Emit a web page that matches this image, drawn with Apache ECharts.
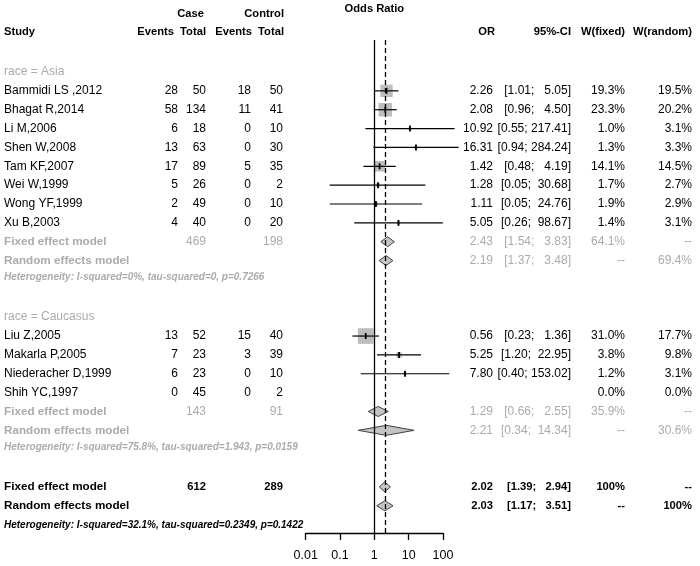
<!DOCTYPE html>
<html><head><meta charset="utf-8">
<script src="https://cdn.jsdelivr.net/npm/echarts@6/dist/echarts.min.js"></script>
<style>html,body{margin:0;padding:0;background:#fff}#c{width:700px;height:566px}</style>
</head><body><div id="c"></div>
<script>
// ---------- data ----------
const studies = ['Bammidi LS ,2012','Bhagat R,2014','Li M,2006','Shen W,2008','Tam KF,2007','Wei W,1999','Wong YF,1999','Xu B,2003','Liu Z,2005','Makarla P,2005','Niederacher D,1999','Shih YC,1997'];
const studyRow = [1,2,3,4,5,6,7,8,14,15,16,17];
const caseEvents = [28,58,6,13,17,5,2,4,13,7,6,0];
const caseTotal = [50,134,18,63,89,26,49,40,52,23,23,45];
const ctrlEvents = [18,11,0,0,5,0,0,0,15,3,0,0];
const ctrlTotal = [50,41,10,30,35,2,10,20,40,39,10,2];
const orValue = [2.26,2.08,10.92,16.31,1.42,1.28,1.11,5.05,0.56,5.25,7.80,null];
const ciLower = [1.01,0.96,0.55,0.94,0.48,0.05,0.05,0.26,0.23,1.20,0.40,null];
const ciUpper = [5.05,4.50,217.41,284.24,4.19,30.68,24.76,98.67,1.36,22.95,153.02,null];
const wFixed = [19.3,23.3,1.0,1.3,14.1,1.7,1.9,1.4,31.0,3.8,1.2,0.0];
const wRandom = [19.5,20.2,3.1,3.3,14.5,2.7,2.9,3.1,17.7,9.8,3.1,0.0];

const groupLabels = ['race = Asia','race = Caucasus'];
const groupRow = [0,13];

const modelNames = ['Fixed effect model','Random effects model','Fixed effect model','Random effects model','Fixed effect model','Random effects model'];
const modelOverall = [false,false,false,false,true,true];
const modelRow = [9,10,18,19,22,23];
const modelOR = [2.43,2.19,1.29,2.21,2.02,2.03];
const modelLower = [1.54,1.37,0.66,0.34,1.39,1.17];
const modelUpper = [3.83,3.48,2.55,14.34,2.94,3.51];
const modelCaseTotal = [469,null,143,null,612,null];
const modelCtrlTotal = [198,null,91,null,289,null];
const modelWFixed = ['64.1%','--','35.9%','--','100%','--'];
const modelWRandom = ['--','69.4%','--','30.6%','--','100%'];

const hetText = ['Heterogeneity: I-squared=0%, tau-squared=0, p=0.7266','Heterogeneity: I-squared=75.8%, tau-squared=1.943, p=0.0159','Heterogeneity: I-squared=32.1%, tau-squared=0.2349, p=0.1422'];
const hetRow = [10.9,19.9,24.05];
const hetOverall = [false,false,true];

const headerTop = ['Case','Control'];
const headerCols = ['Events','Total','Events','Total','OR','95%-CI','W(fixed)','W(random)'];
const plotTitle = 'Odds Ratio';
const xTicks = [0.01,0.1,1,10,100];
const nullLine = 1;
const pooledLine = 2.02;

// ---------- layout ----------
const FONT = '"Liberation Sans", Arial, sans-serif';
const fReg = '12px ' + FONT;
const fBold = 'bold 11.2px ' + FONT;
const fModel = 'bold 11.7px ' + FONT;
const fHet = 'italic bold 10px ' + FONT;
const GRAY = '#ababab';
const X = {study:4, ce:178, ct:206, ke:251, kt:283, or:493, ci:571, wf:625, wr:692};
const HX = [174,206,252,284,495,571,625,692];

const cells = [];
function add(row, x, text, align, font, color){ cells.push({row, x, text:String(text), align, font, color}); }
const ci = (lo,hi) => '[' + lo.toFixed(2) + '; ' + hi.toFixed(2).padStart(6,' ') + ']';

add(-3.34, 'center', plotTitle, 'center', fBold, '#000');
add(-3.07, 204, headerTop[0], 'right', fBold, '#000');
add(-3.07, 284, headerTop[1], 'right', fBold, '#000');
add(-2.12, X.study, 'Study', 'left', fBold, '#000');
headerCols.forEach((h,i)=>add(-2.12, HX[i], h, 'right', fBold, '#000'));

groupLabels.forEach((g,i)=>add(groupRow[i], X.study, g, 'left', fReg, GRAY));
studies.forEach((s,i)=>{
  const r = studyRow[i];
  add(r, X.study, s, 'left', fReg, '#000');
  add(r, X.ce, caseEvents[i], 'right', fReg, '#000');
  add(r, X.ct, caseTotal[i], 'right', fReg, '#000');
  add(r, X.ke, ctrlEvents[i], 'right', fReg, '#000');
  add(r, X.kt, ctrlTotal[i], 'right', fReg, '#000');
  if (orValue[i] != null) {
    add(r, X.or, orValue[i].toFixed(2), 'right', fReg, '#000');
    add(r, X.ci, ci(ciLower[i], ciUpper[i]), 'right', fReg, '#000');
  }
  add(r, X.wf, wFixed[i].toFixed(1) + '%', 'right', fReg, '#000');
  add(r, X.wr, wRandom[i].toFixed(1) + '%', 'right', fReg, '#000');
});
modelNames.forEach((m,i)=>{
  const r = modelRow[i];
  const ov = modelOverall[i];
  const col = ov ? '#000' : GRAY;
  const fn = ov ? fBold : fReg;
  add(r, X.study, m, 'left', fModel, col);
  if (modelCaseTotal[i] != null) add(r, X.ct, modelCaseTotal[i], 'right', fn, col);
  if (modelCtrlTotal[i] != null) add(r, X.kt, modelCtrlTotal[i], 'right', fn, col);
  add(r, X.or, modelOR[i].toFixed(2), 'right', fn, col);
  add(r, X.ci, ci(modelLower[i], modelUpper[i]), 'right', fn, col);
  add(r, X.wf, modelWFixed[i], 'right', fn, col);
  add(r, X.wr, modelWRandom[i], 'right', fn, col);
});
hetText.forEach((h,i)=>add(hetRow[i], X.study, h, 'left', fHet, hetOverall[i] ? '#000' : GRAY));

// ---------- chart ----------
const ROW0 = 72, ROWH = 18.86, TOP = 40, AXISY = 533;
const yMin = (TOP - ROW0) / ROWH, yMax = (AXISY - ROW0) / ROWH;

const studyData = [];
studies.forEach((s,i)=>{ if (orValue[i] != null) studyData.push([orValue[i], studyRow[i], ciLower[i], ciUpper[i], wFixed[i]]); });
const diamondData = modelOR.map((v,i)=>[v, modelRow[i], modelLower[i], modelUpper[i]]);

const chart = echarts.init(document.getElementById('c'));
chart.setOption({
  animation: false,
  backgroundColor: '#fff',
  grid: { left: 305.7, right: 700 - 443, top: TOP, bottom: 566 - AXISY, containLabel: false },
  xAxis: {
    type: 'log', logBase: 10, min: xTicks[0], max: xTicks[xTicks.length-1], position: 'bottom',
    axisLine: { show: true, onZero: false, lineStyle: { color: '#000', width: 1.3 } },
    axisTick: { show: true, length: 7, lineStyle: { color: '#000', width: 1.3 } },
    minorTick: { show: false },
    splitLine: { show: false },
    axisLabel: { color: '#000', fontSize: 12.5, fontFamily: FONT, margin: 16,
      formatter: v => { const t = xTicks.find(k => Math.abs(Math.log10(k) - Math.log10(v)) < 1e-6); return t != null ? String(t) : ''; } }
  },
  yAxis: { type: 'value', inverse: true, min: yMin, max: yMax, show: false },
  series: [
    {
      type: 'line', data: [], silent: true,
      markLine: {
        symbol: 'none', silent: true, label: { show: false },
        data: [
          { xAxis: nullLine, lineStyle: { color: '#000', width: 1.3, type: 'solid' } },
          { xAxis: pooledLine, lineStyle: { color: '#000', width: 1.3, type: [5,3] } }
        ]
      }
    },
    {
      type: 'custom', coordinateSystem: 'cartesian2d', clip: false, silent: true,
      data: studyData, encode: { x: 0, y: 1 },
      renderItem: (params, api) => {
        const p = api.coord([api.value(0), api.value(1)]);
        const lo = api.coord([api.value(2), api.value(1)]);
        const hi = api.coord([api.value(3), api.value(1)]);
        const s = 2.8 * Math.sqrt(api.value(4));
        return { type: 'group', children: [
          { type: 'rect', shape: { x: p[0]-s/2, y: p[1]-s/2, width: s, height: s }, style: { fill: '#bdbdbd' } },
          { type: 'line', shape: { x1: lo[0], y1: lo[1], x2: hi[0], y2: hi[1] }, style: { stroke: '#000', lineWidth: 1.2 } },
          { type: 'line', shape: { x1: p[0], y1: p[1]-3, x2: p[0], y2: p[1]+3 }, style: { stroke: '#000', lineWidth: 1.8 } }
        ]};
      }
    },
    {
      type: 'custom', coordinateSystem: 'cartesian2d', clip: false, silent: true,
      data: diamondData, encode: { x: 0, y: 1 },
      renderItem: (params, api) => {
        const p = api.coord([api.value(0), api.value(1)]);
        const lo = api.coord([api.value(2), api.value(1)]);
        const hi = api.coord([api.value(3), api.value(1)]);
        const h = 5;
        return { type: 'polygon', shape: { points: [[lo[0],p[1]],[p[0],p[1]-h],[hi[0],p[1]],[p[0],p[1]+h]] },
          style: { fill: '#c4c4c4', stroke: '#404040', lineWidth: 1 } };
      }
    },
    {
      type: 'custom', coordinateSystem: 'cartesian2d', clip: false, silent: true,
      data: cells.map((c,i)=>[1, c.row, i]), encode: { x: 0, y: 1 },
      renderItem: (params, api) => {
        const c = cells[api.value(2)];
        const pt = api.coord([1, api.value(1)]);
        const x = c.x === 'center' ? pt[0] : c.x;
        return { type: 'text', style: { x: x, y: pt[1], text: c.text, fill: c.color, font: c.font,
          align: c.align, verticalAlign: 'middle', textAlign: c.align, textVerticalAlign: 'middle' } };
      }
    }
  ]
});
</script>
</body></html>
